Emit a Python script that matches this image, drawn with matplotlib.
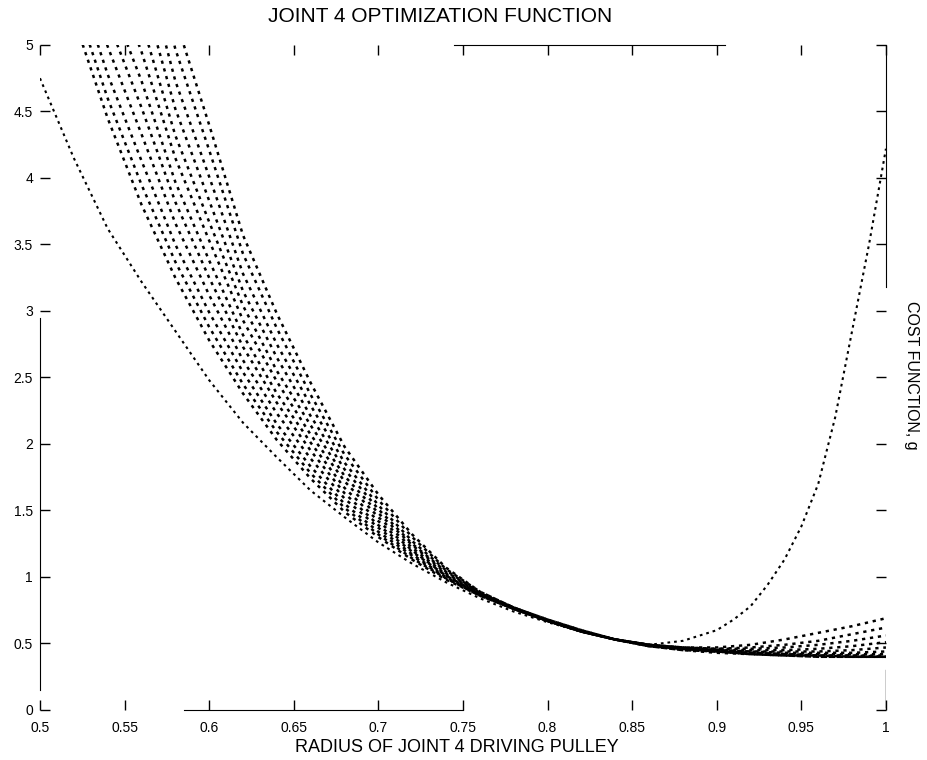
import matplotlib
matplotlib.use("Agg")
import matplotlib.pyplot as plt

plt.rcParams.update({
    "font.family": "Liberation Sans",
    "lines.linewidth": 1.8,
})

# shared radius grid for the family of curves
radius = [0.50, 0.52, 0.54, 0.56, 0.58, 0.60, 0.62, 0.64, 0.66, 0.68, 0.70,
          0.72, 0.74, 0.76, 0.78, 0.80, 0.82, 0.84, 0.86, 0.88, 0.90, 0.92,
          0.94, 0.96, 0.98, 1.00]

g_01 = [6.00, 5.20, 4.45, 3.80, 3.25, 2.78, 2.38, 2.03, 1.74, 1.49, 1.30, 1.13, 0.98,
        0.86, 0.76, 0.67, 0.59, 0.53, 0.49, 0.47, 0.47, 0.49, 0.53, 0.58, 0.63, 0.69]
g_02 = [6.18, 5.36, 4.60, 3.95, 3.37, 2.88, 2.45, 2.09, 1.78, 1.52, 1.32, 1.14, 0.99,
        0.86, 0.76, 0.67, 0.59, 0.53, 0.49, 0.47, 0.46, 0.47, 0.49, 0.52, 0.57, 0.62]
g_03 = [6.39, 5.55, 4.78, 4.13, 3.50, 2.99, 2.54, 2.15, 1.83, 1.55, 1.34, 1.16, 0.99,
        0.86, 0.76, 0.67, 0.59, 0.53, 0.49, 0.47, 0.46, 0.46, 0.47, 0.49, 0.52, 0.56]
g_04 = [6.63, 5.77, 4.99, 4.33, 3.66, 3.12, 2.63, 2.23, 1.89, 1.59, 1.37, 1.17, 1.00,
        0.87, 0.76, 0.67, 0.59, 0.53, 0.49, 0.47, 0.45, 0.45, 0.45, 0.46, 0.48, 0.51]
g_05 = [6.87, 5.98, 5.19, 4.53, 3.82, 3.25, 2.73, 2.31, 1.95, 1.63, 1.39, 1.19, 1.01,
        0.87, 0.76, 0.67, 0.59, 0.53, 0.49, 0.46, 0.45, 0.44, 0.44, 0.44, 0.45, 0.47]
g_06 = [7.11, 6.20, 5.39, 4.73, 3.97, 3.38, 2.82, 2.38, 2.01, 1.67, 1.42, 1.20, 1.01,
        0.87, 0.76, 0.67, 0.59, 0.53, 0.49, 0.46, 0.45, 0.44, 0.43, 0.43, 0.43, 0.44]
g_07 = [7.38, 6.44, 5.62, 4.95, 4.15, 3.53, 2.93, 2.47, 2.07, 1.72, 1.45, 1.22, 1.02,
        0.87, 0.77, 0.67, 0.59, 0.53, 0.49, 0.46, 0.44, 0.43, 0.42, 0.42, 0.42, 0.42]
g_08 = [7.65, 6.69, 5.85, 5.18, 4.32, 3.67, 3.04, 2.55, 2.14, 1.76, 1.48, 1.24, 1.03,
        0.88, 0.77, 0.67, 0.59, 0.53, 0.48, 0.46, 0.44, 0.43, 0.42, 0.41, 0.41, 0.41]
g_09 = [7.95, 6.96, 6.11, 5.43, 4.52, 3.83, 3.15, 2.65, 2.21, 1.81, 1.51, 1.25, 1.04,
        0.88, 0.77, 0.67, 0.59, 0.53, 0.48, 0.46, 0.44, 0.43, 0.42, 0.41, 0.41, 0.40]
g_10 = [8.28, 7.25, 6.39, 5.70, 4.73, 4.01, 3.28, 2.75, 2.29, 1.86, 1.54, 1.27, 1.05,
        0.88, 0.77, 0.68, 0.60, 0.53, 0.48, 0.46, 0.44, 0.42, 0.41, 0.41, 0.40, 0.40]
g_11 = [8.64, 7.58, 6.69, 6.00, 4.97, 4.21, 3.43, 2.87, 2.37, 1.92, 1.58, 1.30, 1.06,
        0.89, 0.77, 0.68, 0.60, 0.53, 0.48, 0.45, 0.44, 0.42, 0.41, 0.40, 0.40, 0.40]
g_12 = [9.00, 7.90, 7.00, 6.30, 5.20, 4.40, 3.57, 2.98, 2.46, 1.98, 1.62, 1.32, 1.07,
        0.89, 0.77, 0.68, 0.60, 0.53, 0.48, 0.45, 0.43, 0.42, 0.41, 0.40, 0.40, 0.40]

# the odd curve: lowest on the left, climbs steeply near r = 1
radius_b = [0.50, 0.52, 0.54, 0.56, 0.58, 0.60, 0.62, 0.64, 0.66, 0.68, 0.70, 0.72,
            0.74, 0.76, 0.78, 0.80, 0.82, 0.84, 0.86, 0.88, 0.90, 0.91, 0.92, 0.93,
            0.94, 0.95, 0.96, 0.97, 0.98, 0.99, 1.00]
g_b = [4.75, 4.15, 3.62, 3.22, 2.85, 2.48, 2.16, 1.90, 1.65, 1.45, 1.26, 1.10,
       0.96, 0.84, 0.74, 0.66, 0.59, 0.53, 0.49, 0.52, 0.60, 0.68, 0.78, 0.94,
       1.13, 1.38, 1.70, 2.20, 2.85, 3.50, 4.22]

xticks = [0.5, 0.55, 0.6, 0.65, 0.7, 0.75, 0.8, 0.85, 0.9, 0.95, 1.0]
xticklabels = ["0.5", "0.55", "0.6", "0.65", "0.7", "0.75", "0.8", "0.85", "0.9", "0.95", "1"]
yticks = [0, 0.5, 1, 1.5, 2, 2.5, 3, 3.5, 4, 4.5, 5]
yticklabels = ["0", "0.5", "1", "1.5", "2", "2.5", "3", "3.5", "4", "4.5", "5"]

family = [g_01, g_02, g_03, g_04, g_05, g_06, g_07, g_08, g_09, g_10, g_11, g_12]

fig = plt.figure(figsize=(9.27, 7.6), dpi=100)
ax = fig.add_axes([0.0431, 0.0658, 0.9126, 0.875])

dots = (0, (1.3, 1.9))
for g in family:
    ax.plot(radius, g, color="black", linestyle=dots)
ax.plot(radius_b, g_b, color="black", linestyle=dots, lw=1.5)

ax.set_xlim(0.5, 1.0)
ax.set_ylim(0, 5)
ax.set_xticks(xticks)
ax.set_xticklabels(xticklabels)
ax.set_yticks(yticks)
ax.set_yticklabels(yticklabels)
ax.tick_params(direction="in", length=7, width=1, top=True, right=True,
               labelsize=10)
ax.tick_params(axis="x", pad=8)
ax.tick_params(axis="y", pad=5)

# the scanned frame only shows pieces of the box
ax.spines["left"].set_bounds(0.15, 2.95)
ax.spines["bottom"].set_bounds(0.585, 0.75)
ax.spines["top"].set_bounds(0.745, 0.905)
ax.spines["right"].set_bounds(3.18, 5.0)
ax.axvline(1.0, ymin=0.004, ymax=0.06, color="black", lw=1)

fig.text(440 / 927, 1 - 16 / 760, "JOINT 4 OPTIMIZATION FUNCTION",
         ha="center", va="center", fontsize=15)
fig.text(457 / 927, 1 - 748 / 760, "RADIUS OF JOINT 4 DRIVING PULLEY",
         ha="center", va="center", fontsize=13)
fig.text(912 / 927, 1 - 375 / 760, "COST FUNCTION, g", rotation=270,
         ha="center", va="center", fontsize=11.5)

fig.savefig("out.png", dpi=100)
